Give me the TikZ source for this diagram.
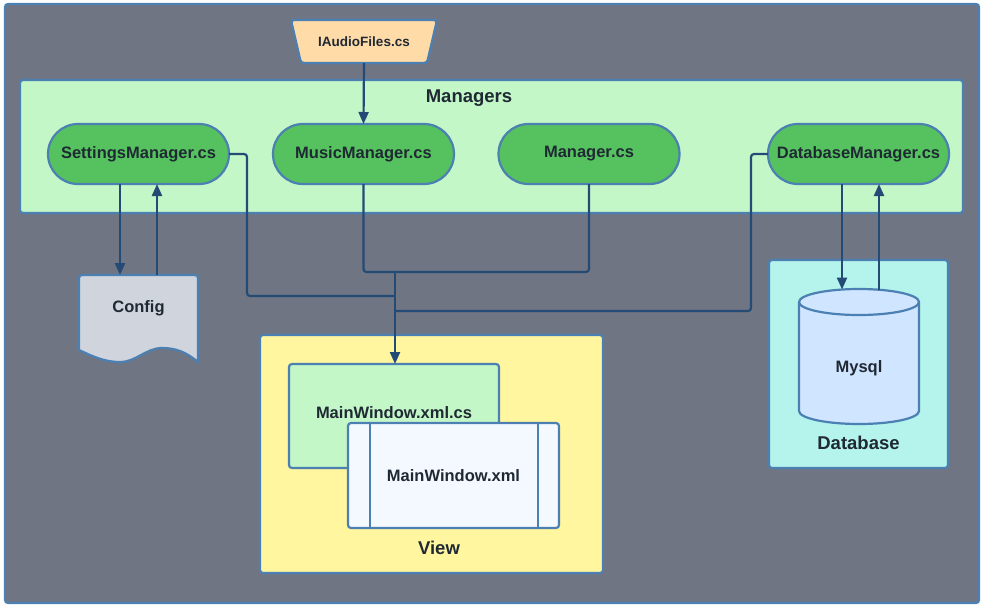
\documentclass[tikz,border=0pt]{standalone}
\usepackage{fontspec}
\setmainfont{Liberation Sans}
\usetikzlibrary{arrows.meta}
\definecolor{outerfill}{HTML}{6F7583}
\definecolor{bordc}{HTML}{4C80B3}
\definecolor{mgrfill}{HTML}{C3F7C8}
\definecolor{stadfill}{HTML}{55C25F}
\definecolor{trapfill}{HTML}{FFDBA8}
\definecolor{cfgfill}{HTML}{D0D5DD}
\definecolor{viewfill}{HTML}{FFF69F}
\definecolor{xmlfill}{HTML}{F3F9FF}
\definecolor{dbfill}{HTML}{B4F4EC}
\definecolor{cylfill}{HTML}{D0E5FF}
\definecolor{linec}{HTML}{244B76}
\definecolor{txtc}{HTML}{1F2933}
\begin{document}
\begin{tikzpicture}[x=1pt,y=-1pt,
  box/.style={draw=bordc, line width=2.2pt, rounded corners=3pt, inner sep=0pt, outer sep=0pt},
  stadium/.style={draw=bordc, line width=2.2pt, fill=stadfill, rounded corners=30pt,
    minimum width=181pt, minimum height=60pt, inner sep=0pt, outer sep=0pt,
    font=\fontsize{16.5}{18}\selectfont\bfseries, text=txtc},
  nfont/.style={font=\fontsize{16.5}{18}\selectfont\bfseries, text=txtc, inner sep=0pt},
  lbl/.style={font=\fontsize{18.5}{20}\selectfont\bfseries, text=txtc, inner sep=0pt},
  conn/.style={draw=linec, line width=2.2pt, rounded corners=3pt},
  arr/.style={conn, -{Triangle[length=12pt,width=10pt]}}]
\useasboundingbox (0,0) rectangle (984,608);
\fill[white] (0,0) rectangle (984,608);
% outer canvas
\node[box, fill=outerfill, minimum width=974pt, minimum height=599pt] (canvas) at (492,303.5) {};
% IAudioFiles trapezoid
\filldraw[draw=bordc, fill=trapfill, line width=2.2pt, rounded corners=3pt]
  (291,20) -- (437,20) -- (427,63) -- (301,63) -- cycle;
\node[font=\fontsize{13.5}{15}\selectfont\bfseries, text=txtc, minimum width=136pt, minimum height=43pt, inner sep=0pt, outer sep=0pt] (iaudio) at (364,41.5) {IAudioFiles.cs};
% Managers group
\node[box, fill=mgrfill, minimum width=943pt, minimum height=133pt] (managers) at (491.5,146.5) {};
\node[lbl] (managerslbl) at (469,98) {Managers};
\node[stadium] (settings) at (138.5,154) {SettingsManager.cs};
\node[stadium] (music) at (363.5,154) {MusicManager.cs};
\node[stadium] (manager) at (589,154) {Manager.cs};
\node[stadium] (dbm) at (858.5,154) {DatabaseManager.cs};
% Config document
\filldraw[draw=bordc, fill=cfgfill, line width=2.2pt]
  (79,350) -- (79,278) [rounded corners=3pt] -- (79,275) -- (198,275) [rounded corners=0pt] -- (198,362)
  .. controls (186,352) and (176,348) .. (162,348)
  .. controls (146,348) and (136,362) .. (120,362)
  .. controls (104,362) and (92,356) .. (79,350) -- cycle;
\node[nfont, minimum width=119pt, minimum height=66pt, outer sep=0pt] (config) at (138.5,308) {Config};
% View group
\node[box, fill=viewfill, minimum width=343pt, minimum height=238pt] (view) at (431.5,454) {};
\node[lbl] (viewlbl) at (439,548) {View};
\node[box, fill=mgrfill, minimum width=210pt, minimum height=104pt] (mwcs) at (394,416) {};
\node[nfont] (mwcslbl) at (394,413) {MainWindow.xml.cs};
\node[box, fill=xmlfill, minimum width=211pt, minimum height=105pt, nfont] (mwx) at (453.5,475.5) {MainWindow.xml};
\draw[draw=bordc, line width=2.2pt] ([xshift=22pt]mwx.north west) -- ([xshift=22pt]mwx.south west);
\draw[draw=bordc, line width=2.2pt] ([xshift=-21pt]mwx.north east) -- ([xshift=-21pt]mwx.south east);
% Database group
\node[box, fill=dbfill, minimum width=179pt, minimum height=208pt] (dbgroup) at (858.5,364) {};
\node[lbl] (dblbl) at (858.5,443) {Database};
\filldraw[draw=bordc, fill=cylfill, line width=2.2pt]
  (799,302) -- (799,411) arc (180:360:60pt and 13pt) -- (919,302) arc (0:180:60pt and 13pt) -- cycle;
\draw[draw=bordc, line width=2.2pt] (799,302) arc (180:360:60pt and 13pt);
\node[nfont] (mysql) at (859,368) {Mysql};
\coordinate (mysqltop) at (859,289.5);
% connectors
\draw[arr] (iaudio.south) -- (music.north);
\draw[arr] ([xshift=-18.5pt]settings.south) -- ([xshift=-18.5pt]settings.south |- config.north);
\draw[arr] ([xshift=18.5pt]settings.south |- config.north) -- ([xshift=18.5pt]settings.south);
\draw[arr] ([xshift=-16.5pt]dbm.south) -- ([xshift=-16.5pt]dbm.south |- mysqltop);
\draw[arr] ([xshift=20.5pt]dbm.south |- mysqltop) -- ([xshift=20.5pt]dbm.south);
\coordinate (junction) at (395,272);
\coordinate (sjoin) at (395,296);
\coordinate (djoin) at (395,311);
\draw[conn] (music.south) |- (junction) -| (manager.south);
\draw[conn] (settings.east) -- (247,154) |- (sjoin);
\draw[conn] (dbm.west) -- (751,154) |- (djoin);
\draw[arr] (junction) -- (junction |- mwcs.north);
\end{tikzpicture}
\end{document}
